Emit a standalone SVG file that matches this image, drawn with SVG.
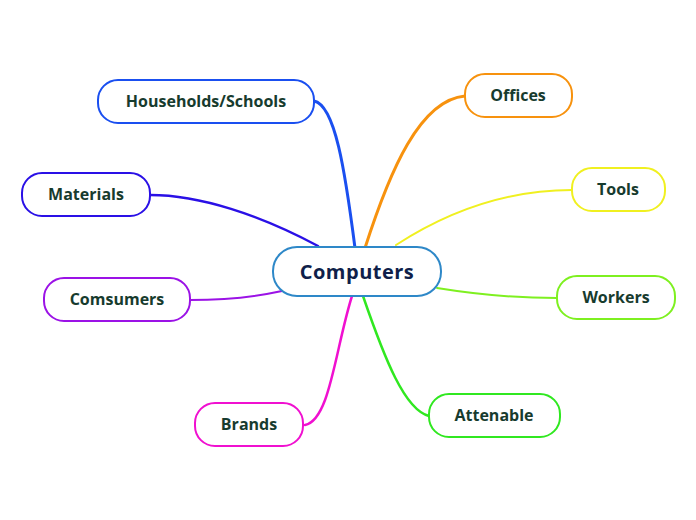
<svg xmlns="http://www.w3.org/2000/svg" width="696" height="520" viewBox="0 0 696 520">
<style>
.n{fill:#fff;stroke-width:2}
.t{font-family:"Open Sans","Noto Sans",sans-serif;font-weight:bold;font-size:16px;fill:#173b2e;text-anchor:middle}
.c{fill:none;stroke-linecap:round}
</style>
<rect width="696" height="520" fill="#fff"/>
<g id="connectors">
<path class="c" d="M355,248 C345,170 335,105 314,101" stroke="#1a4ff0" stroke-width="3"/>
<path class="c" d="M318,246 C260,215 200,195 150,195" stroke="#2a10e6" stroke-width="2.5"/>
<path class="c" d="M282,291 C250,298 220,300 190,300" stroke="#9b12e6" stroke-width="2"/>
<path class="c" d="M352,296 C335,350 330,420 305,425" stroke="#f010d0" stroke-width="2.5"/>
<path class="c" d="M365,248 C390,170 420,100 465,96" stroke="#f7920e" stroke-width="3"/>
<path class="c" d="M396,245 C450,210 510,190 572,190" stroke="#f0f020" stroke-width="2"/>
<path class="c" d="M437,288 C480,295 520,298 557,298" stroke="#7ef020" stroke-width="2"/>
<path class="c" d="M363,296 C385,360 405,410 429,416" stroke="#30e820" stroke-width="2.5"/>
</g>
<g id="computers"><rect class="n" x="273" y="247" width="168" height="49" rx="24" stroke="#2e88c8" fill="#fbfdff"/><text class="t" x="357" y="279" style="font-size:20px;letter-spacing:0.5px;fill:#0f1f4a">Computers</text></g>
<g id="households"><rect class="n" x="98" y="80" width="216" height="43" rx="20" stroke="#1a4ff0"/><text class="t" x="206" y="107">Households/Schools</text></g>
<g id="materials"><rect class="n" x="22" y="173" width="128" height="43" rx="20" stroke="#2a10e6"/><text class="t" x="86" y="200">Materials</text></g>
<g id="comsumers"><rect class="n" x="44" y="278" width="146" height="43" rx="20" stroke="#9b12e6"/><text class="t" x="117" y="305">Comsumers</text></g>
<g id="brands"><rect class="n" x="195" y="403" width="108" height="43" rx="20" stroke="#f010d0"/><text class="t" x="249" y="430">Brands</text></g>
<g id="offices"><rect class="n" x="465" y="74" width="107" height="43" rx="20" stroke="#f7920e"/><text class="t" x="518" y="101">Offices</text></g>
<g id="tools"><rect class="n" x="572" y="168" width="93" height="43" rx="20" stroke="#f0f020"/><text class="t" x="618" y="195">Tools</text></g>
<g id="workers"><rect class="n" x="557" y="276" width="118" height="43" rx="20" stroke="#7ef020"/><text class="t" x="616" y="303">Workers</text></g>
<g id="attenable"><rect class="n" x="429" y="394" width="131" height="43" rx="20" stroke="#30e820"/><text class="t" x="494" y="421">Attenable</text></g>
</svg>
